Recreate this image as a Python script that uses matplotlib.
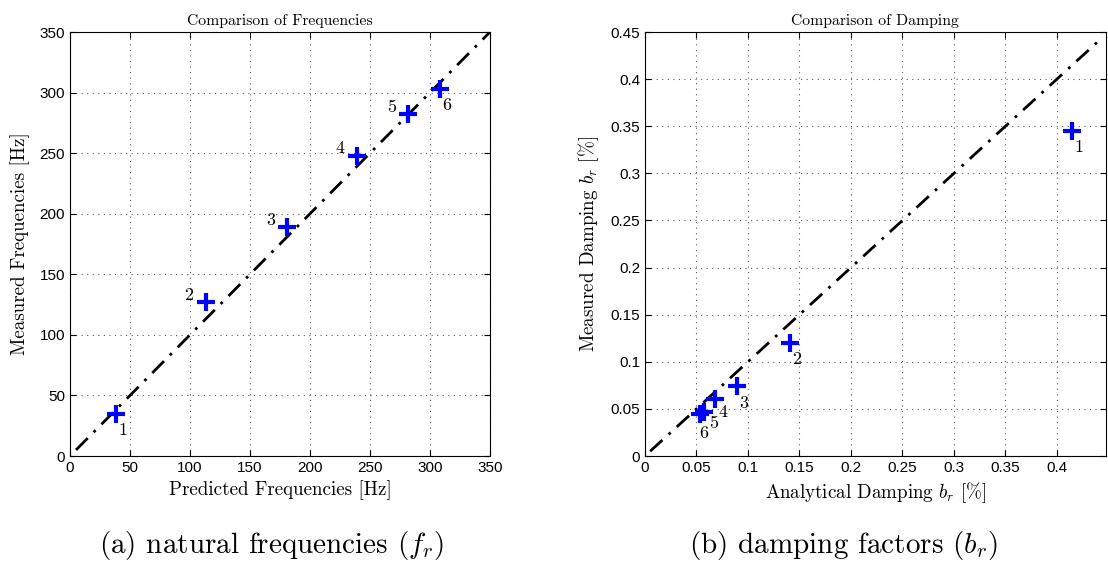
import matplotlib.pyplot as plt
import numpy as np

plt.rcParams['mathtext.fontset'] = 'cm'

# natural frequencies [Hz]
freq_pred = [38, 113, 181, 239, 282, 308]
freq_meas = [35, 127, 189, 248, 282, 303]
freq_lab_off = [(5, -12), (-12, 5), (-12, 5), (-12, 5), (-12, 5), (5, -12)]

# damping [%]
damp_pred = [0.415, 0.141, 0.089, 0.068, 0.057, 0.053]
damp_meas = [0.345, 0.120, 0.074, 0.061, 0.047, 0.045]
damp_lab_off = [(5, -12), (5, -12), (5, -12), (6, -10), (7, -8), (3, -14)]
mode_labels = ['1', '2', '3', '4', '5', '6']

serif = 'cmr10'
tickfont = 'Liberation Sans'

fig = plt.figure(figsize=(11.08, 5.62), dpi=100)
ax1 = fig.add_axes([0.0632, 0.1886, 0.379, 0.7544])
ax2 = fig.add_axes([0.5821, 0.1886, 0.416, 0.7544])


def style(ax):
    ax.grid(True, linestyle=(0, (1, 4)), color='0.35', linewidth=0.8)
    ax.tick_params(direction='in', top=True, right=True, labelsize=11, length=4)
    for lab in ax.get_xticklabels() + ax.get_yticklabels():
        lab.set_fontfamily(tickfont)
    for s in ax.spines.values():
        s.set_linewidth(0.8)


# (a) frequencies
ax1.plot([5, 350], [5, 350], color='k', linestyle=(0, (6, 3, 1, 3)), linewidth=2)
ax1.plot(freq_pred, freq_meas, '+', color='blue', markersize=13, mew=3)
for x, y, t, off in zip(freq_pred, freq_meas, mode_labels, freq_lab_off):
    ax1.annotate(t, (x, y), xytext=off, textcoords='offset points',
                 ha='center', va='center', fontsize=13, family=serif)
ax1.set_xlim(0, 350)
ax1.set_ylim(0, 350)
ax1.set_xticks(np.arange(0, 351, 50))
ax1.set_yticks(np.arange(0, 351, 50))
style(ax1)
ax1.set_title('Comparison of Frequencies', fontsize=11.3, family=serif, pad=5)
ax1.set_xlabel('Predicted Frequencies [Hz]', fontsize=13.7, family=serif, labelpad=4)
ax1.set_ylabel('Measured Frequencies [Hz]', fontsize=13.7, family=serif, labelpad=7)

# (b) damping
ax2.plot([0.005, 0.4417], [0.005, 0.4417], color='k', linestyle=(0, (6, 3, 1, 3)), linewidth=2)
ax2.plot(damp_pred, damp_meas, '+', color='blue', markersize=13, mew=3)
for x, y, t, off in zip(damp_pred, damp_meas, mode_labels, damp_lab_off):
    ax2.annotate(t, (x, y), xytext=off, textcoords='offset points',
                 ha='center', va='center', fontsize=13, family=serif)
ax2.set_xlim(0, 0.4476)
ax2.set_ylim(0, 0.45)
ax2.set_xticks(np.arange(0, 0.41, 0.05))
ax2.set_xticklabels(['0', '0.05', '0.1', '0.15', '0.2', '0.25', '0.3', '0.35', '0.4'])
ax2.set_yticks(np.arange(0, 0.451, 0.05))
ax2.set_yticklabels(['0', '0.05', '0.1', '0.15', '0.2', '0.25', '0.3', '0.35', '0.4', '0.45'])
style(ax2)
ax2.set_title('Comparison of Damping', fontsize=11.3, family=serif, pad=5)
ax2.set_xlabel(r'Analytical Damping $b_r$ [%]', fontsize=13.7, family=serif, labelpad=4)
ax2.set_ylabel(r'Measured Damping $b_r$ [%]', fontsize=13.7, family=serif, labelpad=7)

fig.text(0.245, 0.03, r'(a) natural frequencies ($f_r$)', fontsize=21, family=serif,
         ha='center', va='center')
fig.text(0.761, 0.03, r'(b) damping factors ($b_r$)', fontsize=21, family=serif,
         ha='center', va='center')

fig.savefig('out.png', dpi=100)
